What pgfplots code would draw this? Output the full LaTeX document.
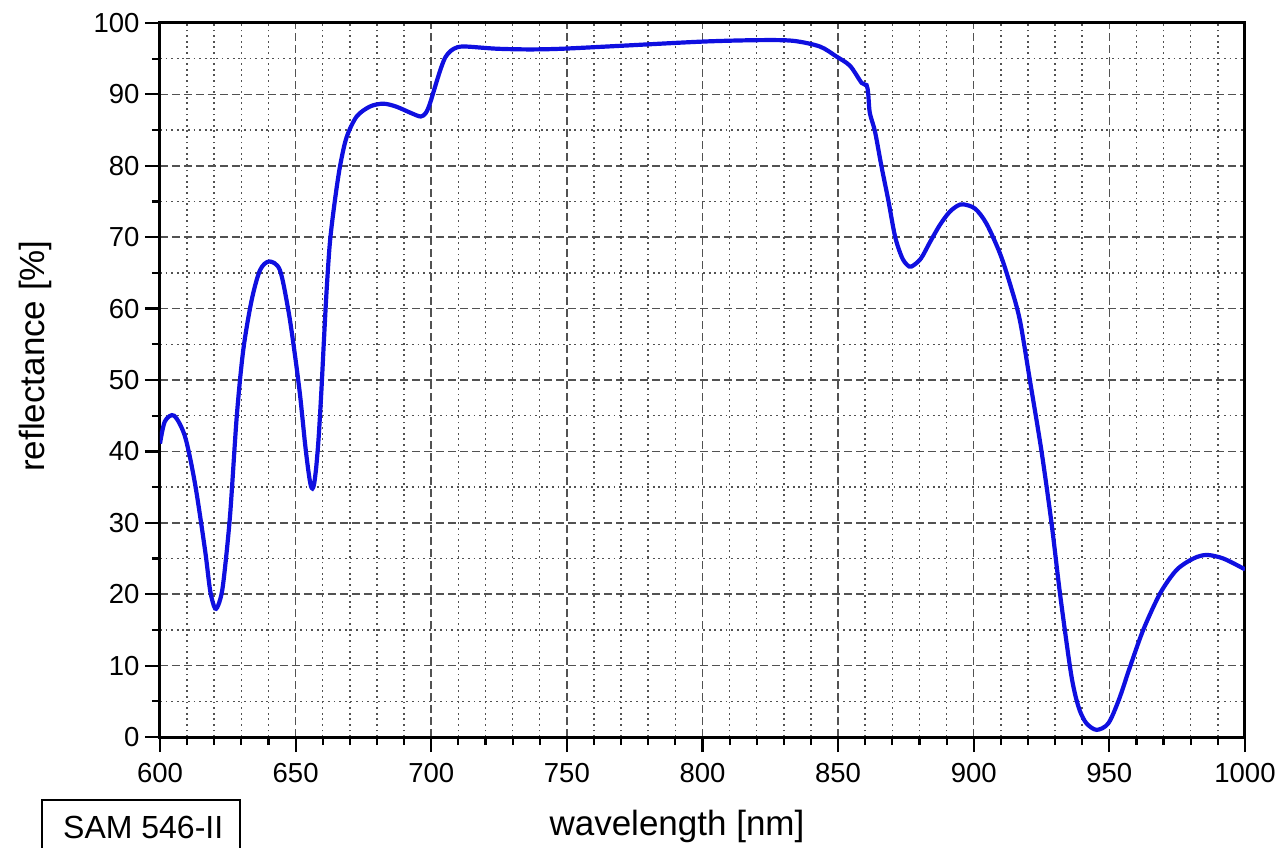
\documentclass[border=0pt]{standalone}
\usepackage{fontspec}
\setmainfont{Liberation Sans}
\usepackage{pgfplots}
\pgfplotsset{compat=1.18}
\definecolor{curveblue}{rgb}{0.06,0.06,0.88}
\begin{document}
\begin{tikzpicture}
\useasboundingbox (-160pt,-110pt) rectangle (1118pt,737pt);
\begin{axis}[
  name=ax, at={(0pt,0pt)}, anchor=south west,
  scale only axis, width=1085pt, height=714pt,
  xmin=600, xmax=1000, ymin=0, ymax=100,
  xtick={600,650,...,1000}, ytick={0,10,...,100},
  minor x tick num=4, minor y tick num=1,
  grid=both,
  major grid style={dash pattern=on 8pt off 4pt, line width=1.5pt, color=black!68},
  minor grid style={dash pattern=on 1.8pt off 3.8pt, line width=1.5pt, color=black!68},
  axis line style={line width=3pt},
  tick align=outside, xtick pos=bottom, ytick pos=left,
  major tick length=15pt, minor tick length=8pt,
  every tick/.style={line width=2.2pt, black},
  /pgf/number format/assume math mode=true,
  /pgf/number format/set thousands separator={},
  ticklabel style={font=\fontsize{27.5}{31}\selectfont},
  xticklabel style={yshift=-8pt},
  yticklabel style={xshift=-2pt},
  xlabel={wavelength [nm]}, ylabel={reflectance [\%]},
  label style={font=\fontsize{35}{40}\selectfont},
  xlabel style={at={(axis description cs:0.4765,-0.1373)}, anchor=base},
  ylabel style={at={(axis description cs:-0.106,0.5336)}, anchor=base},
]
\addplot[curveblue, line width=4.2pt, smooth, tension=0.5] coordinates {
(600,41.1) (601.8,44.2) (605.2,45.0) (609.2,42.1) (612.9,35.5) (616.6,26.2)
(618.5,20.5) (620.3,18.0) (621.8,18.8) (623.3,21.5) (625.8,30.9) (628.3,44.9)
(630.7,54.2) (633.8,61.2) (636.9,65.4) (640.3,66.6) (644.2,65.4) (647.3,59.8)
(649.5,54.2) (651.6,48.0) (653.5,41.0) (654.8,37.0) (655.6,35.2) (656.2,34.8)
(656.8,35.4) (657.6,37.8) (658.5,42.0) (659.5,48.5) (660.5,56.0) (661.5,63.0)
(662.7,69.5) (664.5,75.2) (666.4,80.0) (668.8,84.0) (672.5,86.9) (677.4,88.3)
(682.3,88.7) (687,88.3)
(692.5,87.4) (696.1,86.9) (698,87.4) (699.5,88.7) (702,91.8) (703.6,93.7)
(705.2,95.2) (707.2,96.1) (709.6,96.6) (713,96.7) (724,96.4) (736.4,96.3)
(748.6,96.4) (769.6,96.8) (800.3,97.4) (821.2,97.6) (833.5,97.5) (843.3,96.7)
(849.4,95.3) (854.4,94.0) (858.7,91.6) (860.5,91.3) (861.1,90.1) (861.7,87.4)
(863.6,84.8) (866,79.9) (868.5,75.2) (871,70.1) (873.5,67.2) (875.5,66.1)
(877.1,65.9) (880.5,67.0) (884,69.4) (887.5,71.7) (891,73.5) (894,74.4)
(896.2,74.6) (900.5,74.0)
(904.7,71.9) (909.7,67.7) (913.5,63.3) (917,58.4) (920.7,50.0) (925,40.0)
(928.7,29.9) (931.8,20.1) (935.5,9.8) (937.3,6.1) (939.2,3.6) (941.6,1.9)
(945.3,1.0) (949.6,1.9) (953.5,5.2) (957.6,9.8) (962.5,15.0) (968.7,20.1)
(974.8,23.4) (981,25.0) (985.9,25.5) (992,25.0) (999.4,23.6) (1000,23.4)
};
\end{axis}
\draw[line width=1.3pt] ([shift={(-118pt,-140pt)}]ax.south west) |- ([shift={(80pt,-63pt)}]ax.south west) -- ([shift={(80pt,-140pt)}]ax.south west);
\node[anchor=base west, inner sep=0pt, font=\fontsize{32}{38}\selectfont] at ([shift={(-97pt,-101pt)}]ax.south west) {SAM 546-II};
\end{tikzpicture}
\end{document}
